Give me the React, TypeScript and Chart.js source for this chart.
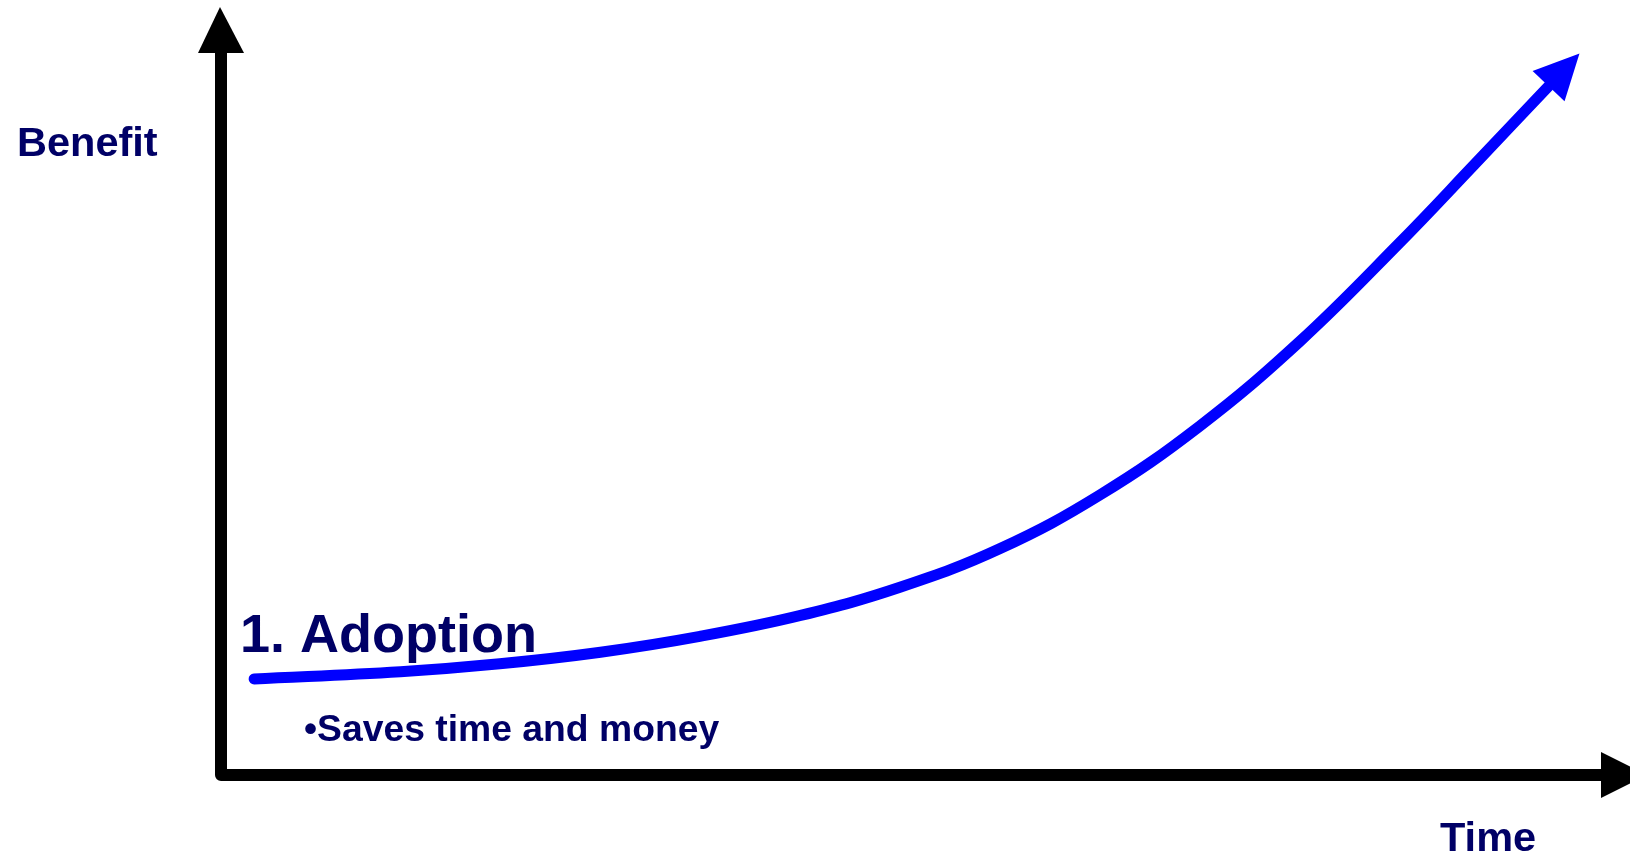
import React, { useEffect, useRef } from "react";
import { Chart, registerables } from "chart.js";

Chart.register(...registerables);

// Curve data (time vs. benefit, arbitrary 0..100 units)
const timeValues = [2.4, 13.0, 20.2, 27.5, 34.7, 42.0, 49.2, 56.5, 63.7, 70.9, 78.2, 85.4, 90.8, 96.2];
const benefitValues = [13.3, 14.3, 15.4, 17.0, 19.2, 22.1, 26.0, 31.4, 38.8, 48.3, 60.1, 73.7, 84.5, 95.4];

const yAxisTitle = "Benefit";
const xAxisTitle = "Time";
const stageTitle = "1. Adoption";
const stageBullet = "\u2022Saves time and money";

const NAVY = "#000066";
const FONT = '"Liberation Sans", Arial, Helvetica, sans-serif';

const decorPlugin = {
  id: "decor",
  beforeDatasetsDraw(chart: any) {
    const { ctx, chartArea } = chart;
    const { left, right, top, bottom } = chartArea;
    ctx.save();
    // axes
    ctx.strokeStyle = "#000";
    ctx.lineWidth = 12;
    ctx.lineJoin = "round";
    ctx.lineCap = "butt";
    ctx.beginPath();
    ctx.moveTo(left, top);
    ctx.lineTo(left, bottom);
    ctx.lineTo(right, bottom);
    ctx.stroke();
    // arrowheads
    ctx.fillStyle = "#000";
    ctx.beginPath();
    ctx.moveTo(left - 1, top - 46);
    ctx.lineTo(left - 23, top);
    ctx.lineTo(left + 23, top);
    ctx.closePath();
    ctx.fill();
    ctx.beginPath();
    ctx.moveTo(right + 46, bottom);
    ctx.lineTo(right, bottom - 23);
    ctx.lineTo(right, bottom + 23);
    ctx.closePath();
    ctx.fill();

    // texts
    ctx.fillStyle = NAVY;
    ctx.textBaseline = "alphabetic";
    ctx.textAlign = "left";
    ctx.font = `bold 41.5px ${FONT}`;
    ctx.fillText(yAxisTitle, 17, 156);
    ctx.fillText(xAxisTitle, 1440, 851);
    ctx.font = `bold 54px ${FONT}`;
    ctx.fillText(stageTitle, 240, 652);
    ctx.font = `bold 37.3px ${FONT}`;
    ctx.fillText(stageBullet, 304, 741);
    ctx.restore();
  },
  afterDatasetsDraw(chart: any) {
    const { ctx } = chart;
    const pts = chart.getDatasetMeta(0).data;
    if (!pts || pts.length < 2) return;
    const last = pts[pts.length - 1];
    const prev = pts[pts.length - 2];
    let dx = last.x - (last.cp1x ?? prev.x);
    let dy = last.y - (last.cp1y ?? prev.y);
    if (!isFinite(dx) || !isFinite(dy) || (dx === 0 && dy === 0)) {
      dx = last.x - prev.x;
      dy = last.y - prev.y;
    }
    const len = Math.hypot(dx, dy);
    const ux = dx / len;
    const uy = dy / len;
    const px = -uy;
    const py = ux;
    const L = 45;
    const W = 22;
    ctx.save();
    ctx.fillStyle = "#0000FF";
    ctx.beginPath();
    ctx.moveTo(last.x + ux * L, last.y + uy * L);
    ctx.lineTo(last.x + px * W, last.y + py * W);
    ctx.lineTo(last.x - px * W, last.y - py * W);
    ctx.closePath();
    ctx.fill();
    ctx.restore();
  },
};

export default function App() {
  const ref = useRef<HTMLCanvasElement | null>(null);
  useEffect(() => {
    if (!ref.current) return;
    const chart = new Chart(ref.current, {
      type: "line",
      data: {
        datasets: [
          {
            data: timeValues.map((x, i) => ({ x, y: benefitValues[i] })),
            borderColor: "#0000FF",
            borderWidth: 11,
            borderCapStyle: "round",
            borderJoinStyle: "round",
            pointRadius: 0,
            tension: 0.4,
            fill: false,
            clip: false as any,
          },
        ],
      },
      options: {
        animation: false,
        responsive: false,
        events: [],
        layout: { padding: { left: 221, right: 29, top: 53, bottom: 83 } },
        plugins: { legend: { display: false }, tooltip: { enabled: false } },
        scales: {
          x: { type: "linear", min: 0, max: 100, display: false },
          y: { type: "linear", min: 0, max: 100, display: false },
        },
      },
      plugins: [decorPlugin],
    } as any);
    return () => chart.destroy();
  }, []);
  return (
    <div style={{ position: "absolute", left: 0, top: 0, width: 1630, height: 858, background: "#fff" }}>
      <canvas ref={ref} width={1630} height={858} style={{ display: "block" }} />
    </div>
  );
}
